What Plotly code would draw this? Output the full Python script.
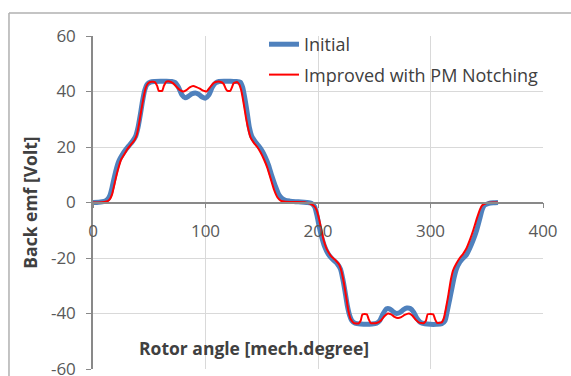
import plotly.graph_objects as go

# ---- data ----
x_initial = [0, 5, 10, 13, 15, 17, 19, 21, 23, 26, 29, 32, 35, 38, 40, 42, 44, 46, 48, 51,
             55, 60, 65, 70, 73, 76, 79, 82, 85, 88, 91, 94, 97, 100, 103, 106, 109, 112,
             117, 122, 127, 131, 133, 135, 137, 139, 141, 144, 147, 150, 153, 156, 159, 162,
             165, 168, 171, 175, 180, 185, 190, 194, 197, 199, 201, 203, 206, 209, 213, 217,
             220, 222, 224, 226, 228, 230, 233, 238, 243, 248, 252, 255, 258, 261, 264, 267,
             270, 273, 276, 279, 282, 285, 288, 291, 295, 300, 305, 310, 313, 315, 317, 319,
             321, 323, 326, 329, 332, 335, 338, 341, 344, 346, 348, 352, 356, 360]
y_initial = [0, 0.1, 0.4, 1.2, 2.5, 5.5, 9.2, 12.5, 15, 17.2, 19, 20.5, 22, 24, 27, 31.5, 36.5,
             40.5, 42.5, 43.4, 43.6, 43.7, 43.7, 43.6, 43.2, 41.5, 38.8, 37.7, 38.3, 39.2, 39.5,
             39, 38, 37.6, 38.8, 41.5, 43.1, 43.6, 43.7, 43.7, 43.6, 43.3, 41.5, 37.5, 32.5, 27,
             24, 22, 20.5, 18.8, 16.5, 13.5, 9.5, 6, 3, 1.5, 0.8, 0.5, 0.3, 0.2, 0, -0.3, -1.5,
             -4.5, -8.5, -12, -16, -18.5, -20.5, -22, -24, -27.5, -32, -37, -40.5, -42.5, -43.5,
             -43.8, -43.9, -43.8, -43.5, -42.5, -40, -38.3, -38.4, -39.4, -40, -39.6, -38.6, -38,
             -38.2, -39.5, -41.8, -43.2, -43.7, -43.9, -43.9, -43.7, -42.5, -39, -35, -31, -27,
             -24, -21.5, -20, -18.8, -16.4, -13.5, -10, -5.5, -2.5, -1, -0.3, -0.1, 0]

x_improved = [0, 5, 10, 13, 15, 17, 19, 21, 23, 25, 28, 31, 34, 37, 39, 41, 43, 45, 47, 49, 52,
              55, 57, 58.5, 61.5, 63, 65, 68, 71, 74, 77, 80, 83, 86, 89, 92, 95, 98, 101, 104,
              107, 110, 113, 116, 118, 119.5, 122, 123.5, 125, 128, 130, 132, 134, 136, 138,
              140, 143, 146, 149, 152, 155, 158, 161, 164, 167, 171, 180, 188, 192, 194, 197,
              199, 201, 203, 205, 208, 212, 216, 219, 221, 223, 225, 227, 229, 232, 236, 238,
              239.5, 243.5, 245, 247, 252, 256, 259, 262, 265, 268, 271, 274, 277, 281, 284,
              287, 290, 294, 296, 297.5, 302.5, 304, 306, 310, 312, 314, 316, 318, 320, 323,
              326, 329, 332, 335, 338, 341, 344, 346, 350, 355, 360]
y_improved = [0, 0, 0.2, 0.5, 1.2, 3, 6.5, 10, 13, 15.5, 17.5, 19.5, 21, 22.5, 24.5, 28.5, 33.5,
              38, 41.5, 43, 43.5, 43.4, 42, 40.2, 40.2, 42, 43.5, 43.6, 43, 41.8, 40.6, 40, 40.5,
              41.5, 42, 41.6, 41, 40.3, 40, 41.5, 43, 43.5, 43.5, 42.8, 41, 40.2, 40.2, 41.5, 43,
              43.4, 42.5, 40, 35.5, 30.5, 26.5, 23.5, 21.5, 20, 18, 15.5, 12.5, 8.5, 4.5, 1.8,
              0.6, 0.3, 0.2, 0.1, -0.3, -0.6, -1.5, -3, -6, -10, -13.5, -17, -19.5, -21, -22.5,
              -25, -29, -34, -39, -42, -43.5, -43.6, -42.5, -40.3, -40.3, -42, -43.5, -43.4,
              -42.5, -41, -40, -40.3, -41.2, -41.6, -41.3, -40.5, -40, -40.8, -42.3, -43.3,
              -43.5, -42.5, -40.3, -40.3, -42, -43.4, -43.2, -41.5, -37.5, -33, -28, -24.5,
              -22, -20, -18.5, -16.5, -13.5, -10, -6, -2.5, -1, -0.2, 0, 0]

x_ticks = [0, 100, 200, 300, 400]
x_tick_labels = ["0", "100", "200", "300", "400"]
y_ticks = [-60, -40, -20, 0, 20, 40, 60]
y_tick_labels = ["-60", "-40", "-20", "0", "20", "40", "60"]

FONT = "Open Sans"
GRID = "#D9D9D9"
AXIS = "#898989"

fig = go.Figure()
fig.add_trace(go.Scatter(
    x=x_initial, y=y_initial, mode="lines", name="Initial",
    line=dict(color="#4F81BD", width=5, shape="spline", smoothing=0.6),
    legendgroup="a"))
fig.add_trace(go.Scatter(
    x=x_improved, y=y_improved, mode="lines", name="Improved with PM Notching",
    line=dict(color="#FF0000", width=2, shape="spline", smoothing=0.4),
    legendgroup="b"))

fig.update_layout(
    width=571, height=376,
    margin=dict(l=93, r=28, t=36, b=7, autoexpand=False),
    paper_bgcolor="white", plot_bgcolor="white",
    font=dict(family=FONT, color="#595959", size=17),
    showlegend=True,
    legend=dict(x=0.38, y=1.03, xanchor="left", yanchor="top",
                bgcolor="rgba(0,0,0,0)", tracegroupgap=4,
                font=dict(family=FONT, size=18, color="#404040")),
    xaxis=dict(range=[0, 400], tickvals=x_ticks, ticktext=x_tick_labels,
               showgrid=True, gridcolor=GRID, automargin=False,
               gridwidth=1, zeroline=False, showline=True, linecolor=AXIS,
               linewidth=1.5, ticks="outside", ticklen=5, tickcolor=AXIS,
               anchor="free", position=0.5, ticklabelstandoff=8,
               tickfont=dict(size=17, color="#595959")),
    yaxis=dict(range=[-60, 60], tickvals=y_ticks, ticktext=y_tick_labels,
               showgrid=True, gridcolor=GRID, automargin=False,
               gridwidth=1, zeroline=False, showline=True, linecolor=AXIS,
               linewidth=1.5, ticks="outside", ticklen=5, tickcolor=AXIS,
               ticklabelstandoff=7, ticklabeloverflow="allow",
               tickfont=dict(size=17, color="#595959")),
)

fig.add_annotation(text="<b>Rotor angle [mech.degree]</b>", xref="paper", yref="paper",
                   x=0.357, y=0.063, xanchor="center", yanchor="middle", showarrow=False,
                   font=dict(family=FONT, size=17.5, color="#404040"))
fig.add_annotation(text="<b>Back emf [Volt]</b>", xref="paper", yref="paper",
                   x=-0.1407, y=0.4985, xanchor="center", yanchor="middle",
                   textangle=-90, showarrow=False,
                   font=dict(family=FONT, size=17.5, color="#404040"))

# chart-area border (left and top edges visible)
fig.add_shape(type="line", xref="paper", yref="paper", x0=-0.1867, x1=-0.1867,
              y0=-0.1, y1=1.069, line=dict(color="#B0B0B0", width=1.5))
fig.add_shape(type="line", xref="paper", yref="paper", x0=-0.1867, x1=1.2,
              y0=1.069, y1=1.069, line=dict(color="#B0B0B0", width=1.5))

fig.write_html("out.html", config={"displayModeBar": False},
               post_script="document.body.style.margin='0';")
